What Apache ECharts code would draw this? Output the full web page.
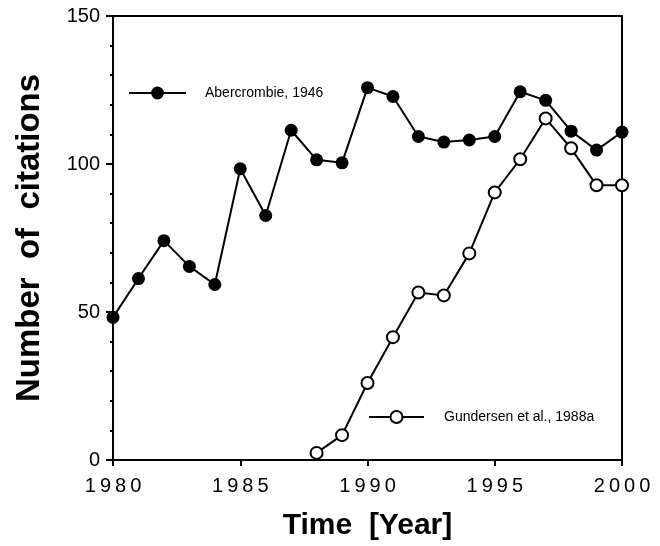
<!DOCTYPE html>
<html><head><meta charset="utf-8">
<script src="https://cdn.jsdelivr.net/npm/echarts@6/dist/echarts.min.js"></script>
<style>html,body{margin:0;padding:0;background:#fff}#c{width:660px;height:546px}</style>
</head><body><div id="c"></div>
<script>
const years = [1980,1981,1982,1983,1984,1985,1986,1987,1988,1989,1990,1991,1992,1993,1994,1995,1996,1997,1998,1999,2000];
const abercrombie = [48.2,61.3,74.1,65.4,59.3,98.4,82.6,111.4,101.4,100.4,125.8,122.8,109.3,107.4,108.1,109.3,124.4,121.5,111.1,104.7,110.8];
const gundersenYears = [1988,1989,1990,1991,1992,1993,1994,1995,1996,1997,1998,1999,2000];
const gundersen = [2.4,8.4,26.0,41.5,56.6,55.6,69.8,90.4,101.6,115.4,105.3,92.8,92.8];
const xTicks = [1980,1985,1990,1995,2000];
const yTicks = [0,50,100,150];
const seriesNames = ['Abercrombie, 1946','Gundersen et al., 1988a'];

const chart = echarts.init(document.getElementById('c'));
const sans = '"Liberation Sans",Arial,Helvetica,sans-serif';
chart.setOption({
  animation:false,
  backgroundColor:'#fff',
  grid:{left:113,right:38,top:16,bottom:85,show:true,borderColor:'#000',borderWidth:2,backgroundColor:'transparent'},
  legend:[
    {data:[seriesNames[0]],left:123,top:81,itemWidth:57,itemHeight:16,
     textStyle:{fontFamily:sans,fontSize:14,color:'#000',padding:[0,0,0,14]}},
    {data:[seriesNames[1]],left:363,top:405,itemWidth:55,itemHeight:15,
     textStyle:{fontFamily:sans,fontSize:14,color:'#000',padding:[0,0,0,15]}}
  ],
  xAxis:{type:'value',min:xTicks[0],max:xTicks[xTicks.length-1],interval:5,
    axisLine:{lineStyle:{color:'#000',width:2}},
    axisTick:{show:true,length:6,lineStyle:{color:'#000',width:2}},
    splitLine:{show:false},
    axisLabel:{color:'#000',fontFamily:sans,fontSize:20,margin:16,
      formatter:v=>String(v).split('').join('\u2009')},
    name:'Time  [Year]',nameLocation:'middle',nameGap:51,
    nameTextStyle:{fontFamily:sans,fontWeight:'bold',fontSize:30,color:'#000'}},
  yAxis:{type:'value',min:yTicks[0],max:yTicks[yTicks.length-1],interval:50,
    axisLine:{show:true,lineStyle:{color:'#000',width:2}},
    axisTick:{show:true,length:7,lineStyle:{color:'#000',width:2}},
    minorTick:{show:true,splitNumber:5,length:3,lineStyle:{color:'#000',width:2}},
    splitLine:{show:false},
    axisLabel:{color:'#000',fontFamily:sans,fontSize:20,margin:13},
    name:'Number  of  citations',nameLocation:'middle',nameGap:67,
    nameTextStyle:{fontFamily:sans,fontWeight:'bold',fontSize:33,color:'#000'}},
  series:[
    {name:seriesNames[0],type:'line',data:years.map((y,i)=>[y,abercrombie[i]]),
     symbol:'circle',symbolSize:13,
     lineStyle:{color:'#000',width:2},itemStyle:{color:'#000',borderColor:'#000',borderWidth:0}},
    {name:seriesNames[1],type:'line',data:gundersenYears.map((y,i)=>[y,gundersen[i]]),
     symbol:'circle',symbolSize:12,
     lineStyle:{color:'#000',width:2},itemStyle:{color:'#fff',borderColor:'#000',borderWidth:2}}
  ]
});
</script></body></html>
